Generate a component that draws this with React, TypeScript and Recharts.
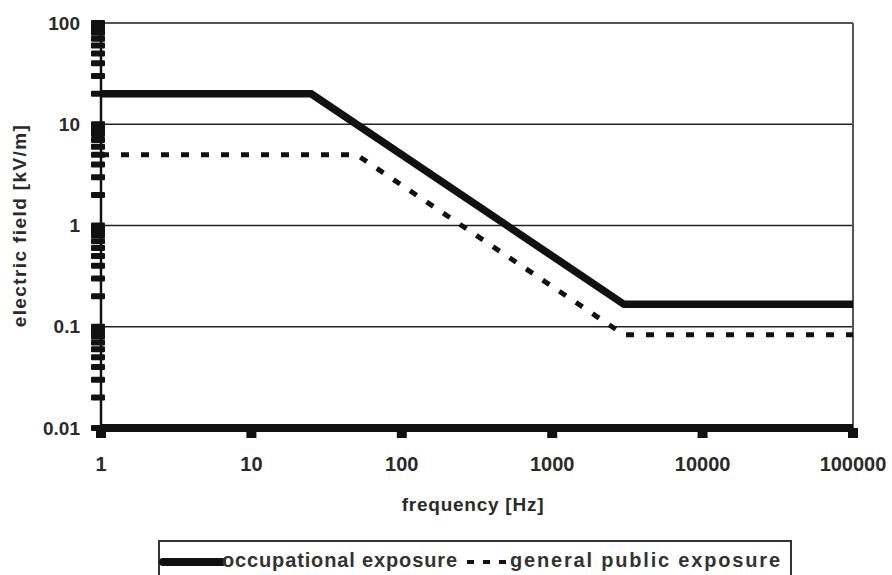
import React from "react";
import {
  LineChart,
  Line,
  XAxis,
  YAxis,
  ReferenceLine,
  Legend,
} from "recharts";

// ICNIRP-style reference levels for low-frequency electric fields
const occupational = [
  { f: 1, e: 20 },
  { f: 25, e: 20 },
  { f: 3000, e: 0.1667 },
  { f: 100000, e: 0.1667 },
];

const generalPublic = [
  { f: 1, e: 5 },
  { f: 50, e: 5 },
  { f: 3000, e: 0.0833 },
  { f: 100000, e: 0.0833 },
];

const seriesNames = ["occupational exposure", "general public exposure"];

const xTicks = [1, 10, 100, 1000, 10000, 100000];
const yMajorTicks = [0.01, 0.1, 1, 10, 100];
const yMinorSteps = [2, 3, 4, 5, 6, 7, 8, 9];
const gridValues = [0.1, 1, 10];

// every decade gets a mark at 2..9 as well as the labelled power of ten
const yTicks = yMajorTicks.flatMap((v, i) =>
  i < yMajorTicks.length - 1 ? [v, ...yMinorSteps.map((s) => v * s)] : [v]
);

const FONT = "'Liberation Sans', Arial, sans-serif";
const INK = "#111";
const TEXT = "#2a2a2a";

const YTick = (props: any) => {
  const { x, y, payload } = props;
  const major = yMajorTicks.includes(payload.value);
  return (
    <g>
      <rect x={x - 10} y={y - 3} width={14} height={6} rx={1} fill={INK} />
      {major && (
        <text
          x={x - 21}
          y={y}
          dy="0.35em"
          textAnchor="end"
          fontFamily={FONT}
          fontWeight="bold"
          fontSize={19}
          fill={TEXT}
        >
          {payload.value}
        </text>
      )}
    </g>
  );
};

const XTick = (props: any) => {
  const { x, y, payload } = props;
  return (
    <g>
      <rect x={x - 5} y={y} width={10} height={10} fill={INK} />
      <text
        x={x}
        y={y + 43}
        textAnchor="middle"
        fontFamily={FONT}
        fontWeight="bold"
        fontSize={20}
        fill={TEXT}
      >
        {payload.value}
      </text>
    </g>
  );
};

// sample start, sample length, text start, text length per legend entry
const legendLayout = [
  { sx: 5, sw: 59, tx: 64, tw: 235 },
  { sx: 309, sw: 40, tx: 352, tw: 270 },
];

const LegendBox = (props: any) => {
  const { payload = [] } = props;
  const items = [...payload].sort(
    (a: any, b: any) => seriesNames.indexOf(a.value) - seriesNames.indexOf(b.value)
  );
  return (
    <svg width={634} height={42} style={{ display: "block" }}>
      <rect x={1} y={1} width={632} height={44} fill="#fff" stroke="#333" strokeWidth={2} />
      {items.map((entry: any, i: number) => {
        const l = legendLayout[i];
        const dashed = !!entry.payload?.strokeDasharray;
        return (
          <g key={entry.value}>
            <line
              x1={l.sx}
              x2={l.sx + l.sw}
              y1={22}
              y2={22}
              stroke={INK}
              strokeWidth={dashed ? 4 : 8}
              strokeDasharray={dashed ? "7 9" : undefined}
              strokeLinecap={dashed ? "butt" : "round"}
            />
            <text
              x={l.tx}
              y={27}
              textLength={l.tw}
              lengthAdjust="spacing"
              fontFamily={FONT}
              fontWeight="bold"
              fontSize={20}
              fill="#333"
            >
              {entry.value}
            </text>
          </g>
        );
      })}
    </svg>
  );
};

export default function App() {
  return (
    <div style={{ position: "absolute", left: 0, top: 0, background: "#fff" }}>
      <LineChart
        width={892}
        height={575}
        margin={{ top: 23, right: 39, left: 0, bottom: 0 }}
      >
        <XAxis
          dataKey="f"
          type="number"
          scale="log"
          domain={[1, 100000]}
          ticks={xTicks}
          interval={0}
          allowDataOverflow
          height={147}
          tickSize={0}
          tickMargin={0}
          tickLine={false}
          axisLine={{ stroke: INK, strokeWidth: 8 }}
          tick={<XTick />}
          label={{
            value: "frequency [Hz]",
            position: "insideTop",
            offset: 70,
            dx: -4,
            style: {
              fontFamily: FONT,
              fontWeight: "bold",
              fontSize: 19,
              letterSpacing: 0.75,
              fill: TEXT,
            },
          }}
        />
        <YAxis
          type="number"
          scale="log"
          domain={[0.01, 100]}
          ticks={yTicks}
          interval={0}
          allowDataOverflow
          width={101}
          tickSize={0}
          tickMargin={0}
          tickLine={false}
          axisLine={{ stroke: INK, strokeWidth: 2.5 }}
          tick={<YTick />}
          label={{
            value: "electric field [kV/m]",
            angle: -90,
            position: "insideLeft",
            offset: 23,
            dx: -4,
            style: {
              textAnchor: "middle",
              fontFamily: FONT,
              fontWeight: "bold",
              fontSize: 19,
              letterSpacing: 1.4,
              fill: TEXT,
            },
          }}
        />
        <ReferenceLine y={100} stroke="#555" strokeWidth={2} />
        {gridValues.map((v) => (
          <ReferenceLine key={v} y={v} stroke="#222" strokeWidth={1.5} />
        ))}
        <ReferenceLine x={100000} stroke="#555" strokeWidth={2} />
        <Line
          data={occupational}
          dataKey="e"
          name={seriesNames[0]}
          type="linear"
          stroke={INK}
          strokeWidth={7.5}
          dot={false}
          activeDot={false}
          isAnimationActive={false}
        />
        <Line
          data={generalPublic}
          dataKey="e"
          name={seriesNames[1]}
          type="linear"
          stroke={INK}
          strokeWidth={5}
          strokeDasharray="8 12"
          dot={false}
          activeDot={false}
          isAnimationActive={false}
        />
        <Legend
          layout="horizontal"
          verticalAlign="middle"
          align="center"
          content={<LegendBox />}
          wrapperStyle={{ left: 158, top: 540, width: 634, height: 42 }}
        />
      </LineChart>
    </div>
  );
}
